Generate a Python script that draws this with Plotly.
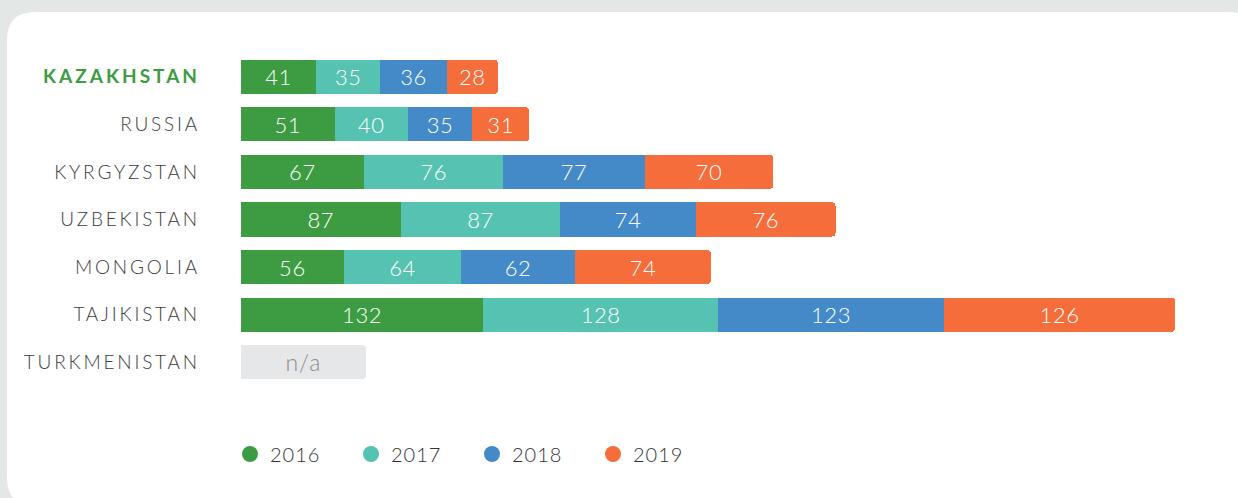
import plotly.graph_objects as go

# ---------------- data ----------------
countries = ["KAZAKHSTAN", "RUSSIA", "KYRGYZSTAN", "UZBEKISTAN", "MONGOLIA", "TAJIKISTAN", "TURKMENISTAN"]
years = ["2016", "2017", "2018", "2019"]
v2016 = [41, 51, 67, 87, 56, 132, None]
v2017 = [35, 40, 76, 87, 64, 128, None]
v2018 = [36, 35, 77, 74, 62, 123, None]
v2019 = [28, 31, 70, 76, 74, 126, None]
na_width = [None, None, None, None, None, None, 68]   # placeholder bar for missing data
na_text = ["", "", "", "", "", "", "n/a"]

series = [v2016, v2017, v2018, v2019]
colors = ["#3d9c41", "#56c2b2", "#4489c8", "#f46d3b"]
highlight = "KAZAKHSTAN"
highlight_color = "#3d9c41"

# ---------------- layout geometry ----------------
W, H = 1238, 498
L, R, T, B = 241, 6, 53, 112
pw, ph = W - L - R, H - T - B


def px(x):
    return (x - L) / pw


def py(y):
    return (H - B - y) / ph


def spaced(s, ls):
    return f"<span style='letter-spacing:{ls}px'>{s}</span>"


fig = go.Figure()

for yr, vals, col in zip(years, series, colors):
    fig.add_trace(go.Bar(
        y=countries, x=vals, name=yr, orientation="h",
        marker=dict(color=col, line=dict(width=0)),
        text=[("" if v is None else spaced(v, 0.6)) for v in vals],
        textposition="inside", insidetextanchor="middle",
        textangle=0, constraintext="none",
        textfont=dict(color="white", size=22, family="Lato", weight=300),
        showlegend=False, hoverinfo="skip",
    ))

fig.add_trace(go.Bar(
    y=countries, x=na_width, orientation="h",
    marker=dict(color="#e6e7e9", line=dict(width=0)),
    text=[spaced(t, 1) if t else "" for t in na_text],
    textposition="inside", insidetextanchor="middle",
    textangle=0, constraintext="none",
    textfont=dict(color="#8c8c8c", size=23, family="Lato", weight=300),
    showlegend=False, hoverinfo="skip",
))

for yr, col in zip(years, colors):
    fig.add_trace(go.Scatter(
        x=[None], y=[None], mode="markers", name=spaced(yr, 1),
        marker=dict(color=col, size=19, symbol="circle"),
        showlegend=True,
    ))

ticktext = [
    (f"<b><span style='color:{highlight_color};letter-spacing:3px'>{c}</span></b>"
     if c == highlight else spaced(c, 2.8))
    for c in countries
]

# rounded white panel (pixel coords -> paper)
x0, x1, y0, y1, r = 7, 1256, 12, 506, 28
path = (
    f"M {px(x0)},{py(y0 + r)} "
    f"Q {px(x0)},{py(y0)} {px(x0 + r)},{py(y0)} "
    f"L {px(x1 - r)},{py(y0)} "
    f"Q {px(x1)},{py(y0)} {px(x1)},{py(y0 + r)} "
    f"L {px(x1)},{py(y1 - r)} "
    f"Q {px(x1)},{py(y1)} {px(x1 - r)},{py(y1)} "
    f"L {px(x0 + r)},{py(y1)} "
    f"Q {px(x0)},{py(y1)} {px(x0)},{py(y1 - r)} Z"
)

fig.update_layout(
    width=W, height=H,
    margin=dict(l=L, r=R, t=T, b=B, autoexpand=False),
    paper_bgcolor="#e3e7e6",
    plot_bgcolor="rgba(0,0,0,0)",
    barmode="stack",
    bargap=0.28,
    barcornerradius=4,
    shapes=[dict(type="path", path=path, xref="paper", yref="paper",
                 fillcolor="white", line=dict(width=0), layer="below")],
    xaxis=dict(range=[0, 540], visible=False, fixedrange=True),
    yaxis=dict(
        categoryorder="array", categoryarray=countries,
        tickmode="array", tickvals=countries, ticktext=ticktext,
        range=[6.5, -0.5], showgrid=False, zeroline=False, showline=False,
        ticks="", ticklabelstandoff=40, fixedrange=True,
        tickfont=dict(family="Lato", size=19, color="#3b3b3b", weight=300),
    ),
    legend=dict(
        orientation="h", traceorder="normal",
        x=px(230), y=py(454), xanchor="left", yanchor="middle",
        entrywidth=76, entrywidthmode="pixels",
        font=dict(family="Lato", size=20, color="#333333", weight=300),
        bgcolor="rgba(0,0,0,0)", itemclick=False, itemdoubleclick=False,
    ),
)

fig.write_html(
    "out.html",
    config={"displayModeBar": False},
    post_script="document.body.style.margin='0';document.body.style.overflow='hidden';",
)
